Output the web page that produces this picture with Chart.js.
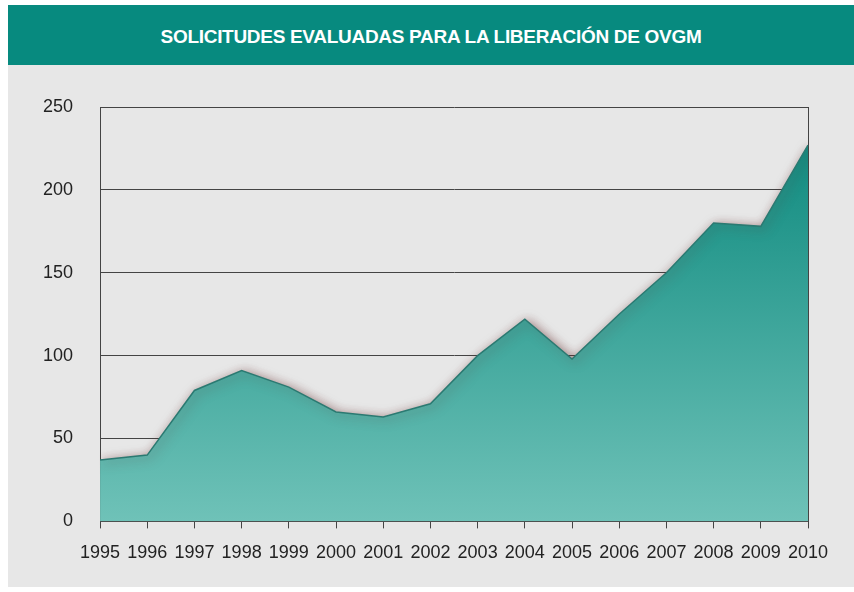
<!DOCTYPE html>
<html>
<head>
<meta charset="utf-8">
<script src="https://cdn.jsdelivr.net/npm/chart.js@4"></script>
<style>
  body { margin: 0; background: #ffffff; width: 854px; height: 592px; overflow: hidden; font-family: "Liberation Sans", Arial, sans-serif; }
  #header { position: absolute; left: 8px; top: 5px; width: 846px; height: 60px; background: #078a7f; color: #fff; text-align: center; line-height: 64px; font-size: 19px; font-weight: bold; letter-spacing: -0.3px; }
  #panel { position: absolute; left: 8px; top: 65px; width: 846px; height: 522px; background: #e7e7e7; }
  #wrap { position: absolute; left: 0; top: 0; width: 854px; height: 592px; }
</style>
</head>
<body>
<div id="header">SOLICITUDES EVALUADAS PARA LA LIBERACIÓN DE OVGM</div>
<div id="panel"></div>
<div id="wrap"><canvas id="graph"></canvas></div>
<script>
const years = ["1995","1996","1997","1998","1999","2000","2001","2002","2003","2004","2005","2006","2007","2008","2009","2010"]
const solicitudes = [37,40,79,91,81,66,63,71,100,122,98,125,150,180,178,227]
const yTicks = [0,50,100,150,200,250]

const graph = document.getElementById("graph").getContext("2d")

// sombra bajo el área
const shadow = {
    id: 'shadow',
    beforeDatasetsDraw(chart) {
        const c = chart.ctx
        c.save()
        c.shadowColor = 'rgba(100,45,45,0.6)'
        c.shadowBlur = 11
        c.shadowOffsetX = 3
        c.shadowOffsetY = 2
    },
    afterDatasetsDraw(chart) {
        chart.ctx.restore()
    }
}

const data = {
    labels: years,
    datasets: [
        {
            label: "Solicitudes",
            data: solicitudes,
            fill: 'origin',
            borderColor: '#2b7a72',
            borderWidth: 1.5,
            pointRadius: 0,
            tension: 0,
            backgroundColor: (ctx) => {
                const area = ctx.chart.chartArea
                if (!area) return '#3aa89c'
                const g = ctx.chart.ctx.createLinearGradient(0, area.top, 0, area.bottom)
                g.addColorStop(0, '#0b867b')
                g.addColorStop(0.3, '#26988d')
                g.addColorStop(1, '#6fc2b8')
                return g
            },
        },
    ],
}

const config = {
    type: 'line',
    data: data,
    plugins: [shadow],
    options: {
        responsive: true,
        maintainAspectRatio: false,
        animation: false,
        layout: { padding: { left: 16, right: 46, top: 107, bottom: 14 } },
        plugins: { legend: { display: false }, tooltip: { enabled: false } },
        scales: {
            x: {
                offset: false,
                border: { display: true, color: '#444', width: 1 },
                grid: {
                    color: (c) => c.index === years.length - 1 ? '#444' : 'rgba(0,0,0,0)',
                    tickColor: '#444',
                    tickLength: 7,
                    lineWidth: 1,
                },
                ticks: {
                    color: '#222',
                    font: { family: 'Liberation Sans', size: 18 },
                    padding: 14,
                    maxRotation: 0,
                    autoSkip: false,
                },
            },
            y: {
                min: 0,
                max: 250,
                afterBuildTicks: (s) => { s.ticks = yTicks.map(v => ({ value: v })) },
                border: { display: true, color: '#444', width: 1 },
                grid: { color: '#444', drawTicks: false, lineWidth: 1 },
                ticks: {
                    color: '#222',
                    font: { family: 'Liberation Sans', size: 18 },
                    padding: 27,
                },
            },
        },
    },
}

let myChart = new Chart(graph, config)
</script>
</body>
</html>
